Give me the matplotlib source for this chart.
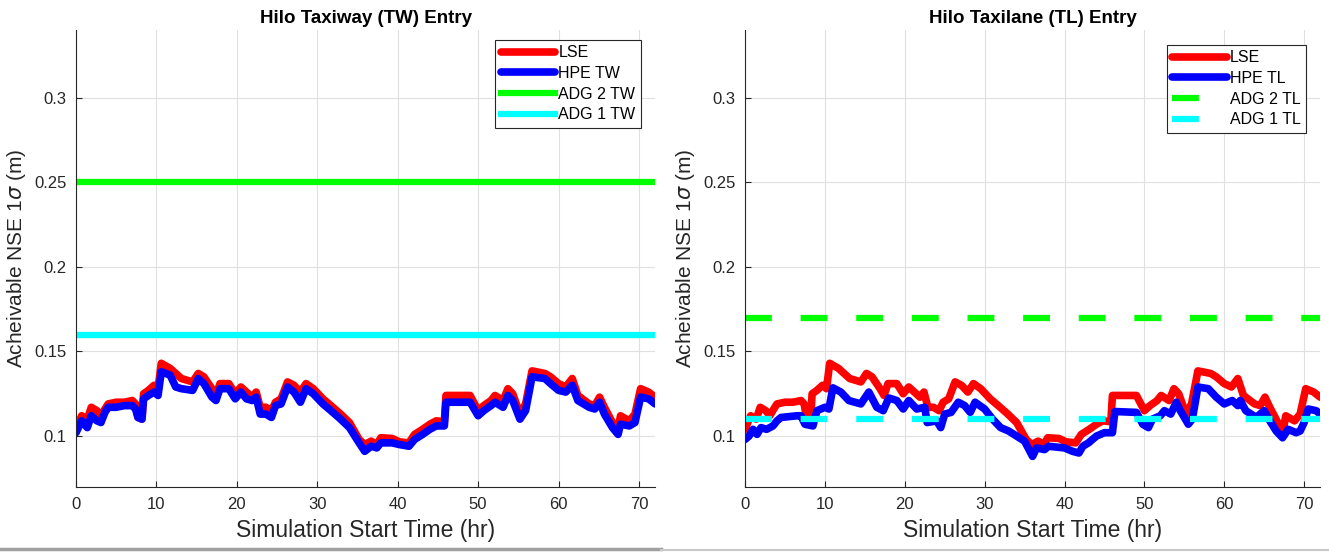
import numpy as np
import matplotlib.pyplot as plt
from matplotlib.ticker import FormatStrFormatter
from matplotlib.lines import Line2D

plt.rcParams['font.family'] = ['Liberation Sans', 'DejaVu Sans']

# LSE (same curve in both panels)
lse_t = [0, 0.7, 1.4, 1.9, 2.6, 3.1, 3.6, 4.0, 5.0, 6.0, 7.0, 7.4, 7.7, 8.2, 8.4, 9.0, 9.7, 10.2,
         10.6, 11.7, 12.4, 13.1, 14.5, 15.2, 15.9, 16.9, 17.4, 17.9, 19.0, 19.8, 20.5, 21.2, 21.9,
         22.4, 22.9, 23.6, 24.3, 24.8, 25.5, 26.3, 27.1, 27.9, 28.6, 29.5, 30.7, 31.7, 32.9, 34.0,
         35.2, 35.9, 36.7, 37.4, 37.9, 39.3, 40.2, 41.4, 42.1, 43.1, 44.0, 44.8, 45.8, 46.0, 49.0,
         50.0, 50.7, 51.6, 52.1, 53.1, 53.7, 54.3, 55.2, 55.9, 56.7, 58.3, 59.0, 60.0, 60.9, 61.7,
         62.4, 63.8, 64.5, 65.1, 65.7, 66.7, 67.4, 67.7, 68.8, 69.5, 70.2, 71.2, 72.0]
lse_v = [0.104, 0.112, 0.110, 0.117, 0.115, 0.112, 0.116, 0.119, 0.120, 0.120, 0.121, 0.119, 0.111,
         0.110, 0.125, 0.127, 0.130, 0.128, 0.143, 0.140, 0.137, 0.134, 0.132, 0.137, 0.135, 0.128,
         0.124, 0.131, 0.131, 0.125, 0.129, 0.126, 0.123, 0.126, 0.117, 0.117, 0.115, 0.120, 0.122,
         0.132, 0.130, 0.126, 0.131, 0.128, 0.122, 0.118, 0.113, 0.108, 0.098, 0.095, 0.097, 0.095,
         0.099, 0.0986, 0.0966, 0.096, 0.101, 0.104, 0.107, 0.109, 0.1085, 0.124, 0.124, 0.115,
         0.118, 0.121, 0.124, 0.121, 0.128, 0.125, 0.113, 0.119, 0.1385, 0.137, 0.135, 0.131, 0.129,
         0.134, 0.124, 0.119, 0.118, 0.123, 0.117, 0.108, 0.104, 0.112, 0.109, 0.113, 0.128, 0.126,
         0.123]

# HPE taxiway (same time samples as LSE)
hpe_tw_v = [0.102, 0.109, 0.105, 0.112, 0.109, 0.108, 0.114, 0.117, 0.117, 0.118, 0.118, 0.116,
            0.111, 0.110, 0.122, 0.124, 0.126, 0.124, 0.138, 0.136, 0.129, 0.128, 0.127, 0.134,
            0.131, 0.123, 0.121, 0.128, 0.128, 0.122, 0.126, 0.122, 0.121, 0.123, 0.113, 0.113,
            0.111, 0.118, 0.119, 0.129, 0.126, 0.120, 0.128, 0.125, 0.119, 0.115, 0.110, 0.105,
            0.096, 0.091, 0.094, 0.093, 0.096, 0.096, 0.095, 0.094, 0.098, 0.101, 0.104, 0.106,
            0.106, 0.120, 0.120, 0.112, 0.115, 0.118, 0.120, 0.117, 0.124, 0.121, 0.110, 0.115,
            0.135, 0.134, 0.131, 0.127, 0.126, 0.130, 0.121, 0.117, 0.116, 0.120, 0.113, 0.105,
            0.101, 0.107, 0.106, 0.108, 0.123, 0.122, 0.119]

# HPE taxilane
hpe_tl_t = [0, 0.5, 1, 1.5, 2, 2.7, 3.5, 4, 4.5, 6.5, 7, 7.5, 8.5, 9, 10, 10.5, 11, 12, 13, 14.5,
            15.5, 16.5, 17.3, 18, 19, 19.8, 20.5, 21.5, 22.5, 22.8, 24, 24.5, 25, 25.8, 26.7, 27.5,
            28.2, 28.8, 30, 31, 32, 33, 34, 35, 36, 36.5, 37.5, 38, 40, 41, 41.8, 42.3, 43, 44,
            45, 46, 46.3, 49, 49.8, 50.5, 51, 52, 52.5, 53.3, 54, 54.5, 55.5, 56, 56.7, 58, 59,
            60, 61, 61.7, 62, 62.7, 64, 65, 65.7, 66.5, 67.3, 68, 69, 69.5, 70, 70.5, 71.5, 72]
hpe_tl_v = [0.098, 0.100, 0.104, 0.101, 0.105, 0.104, 0.106, 0.109, 0.111, 0.112, 0.112, 0.107,
            0.106, 0.115, 0.117, 0.116, 0.1285, 0.126, 0.121, 0.119, 0.126, 0.117, 0.115, 0.1225,
            0.121, 0.116, 0.121, 0.116, 0.117, 0.108, 0.109, 0.105, 0.113, 0.114, 0.120, 0.118,
            0.114, 0.120, 0.116, 0.110, 0.105, 0.103, 0.100, 0.097, 0.088, 0.093, 0.092, 0.094,
            0.093, 0.091, 0.090, 0.094, 0.096, 0.100, 0.102, 0.102, 0.1145, 0.114, 0.107, 0.105,
            0.110, 0.112, 0.115, 0.113, 0.120, 0.115, 0.107, 0.110, 0.129, 0.128, 0.123, 0.119,
            0.121, 0.118, 0.121, 0.115, 0.111, 0.115, 0.109, 0.103, 0.099, 0.104, 0.102, 0.103,
            0.108, 0.116, 0.115, 0.113]

adg2_tw, adg1_tw = 0.25, 0.16
adg2_tl, adg1_tl = 0.17, 0.11
xlim = (0, 72)
ylim = (0.07, 0.34)
yticks = [0.1, 0.15, 0.2, 0.25, 0.3]

fig = plt.figure(figsize=(13.29, 5.52), dpi=100)
ax1 = fig.add_axes([0.0572, 0.118, 0.4357, 0.828])
ax2 = fig.add_axes([0.5606, 0.118, 0.4327, 0.828])

lw = 5.5
line_kw = dict(solid_capstyle='round', solid_joinstyle='round')
dash = (4.3, 4.6)

ax1.plot(lse_t, lse_v, color='#ff0000', lw=lw, label='LSE', **line_kw)
ax1.plot(lse_t, hpe_tw_v, color='#0000ff', lw=lw, label='HPE TW', **line_kw)
ax1.axhline(adg2_tw, color='#00ff00', lw=4.5, label='ADG 2 TW')
ax1.axhline(adg1_tw, color='#00ffff', lw=4.5, label='ADG 1 TW')
ax1.set_title('Hilo Taxiway (TW) Entry', fontsize=13.5, fontweight='bold', pad=5)

ax2.plot(lse_t, lse_v, color='#ff0000', lw=lw, label='LSE', **line_kw)
ax2.plot(hpe_tl_t, hpe_tl_v, color='#0000ff', lw=lw, label='HPE TL', **line_kw)
ax2.axhline(adg2_tl, color='#00ff00', lw=4.5, dashes=dash, label='ADG 2 TL')
ax2.axhline(adg1_tl, color='#00ffff', lw=4.5, dashes=dash, label='ADG 1 TL')
ax2.set_title('Hilo Taxilane (TL) Entry', fontsize=13.5, fontweight='bold', pad=5)

for ax, anchor in [(ax1, (0.976, 0.978)), (ax2, (0.976, 0.967))]:
    ax.set_xlim(*xlim)
    ax.set_ylim(*ylim)
    ax.set_yticks(yticks)
    ax.set_xticks(range(0, 71, 10))
    ax.yaxis.set_major_formatter(FormatStrFormatter('%g'))
    ax.grid(True, color='#e0e0e0', lw=0.8)
    ax.set_axisbelow(True)
    for s in ['top', 'right']:
        ax.spines[s].set_visible(False)
    for s in ['left', 'bottom']:
        ax.spines[s].set_color('#262626')
        ax.spines[s].set_linewidth(0.8)
    ax.tick_params(direction='in', length=4, colors='#262626', labelsize=12, pad=7)
    ax.set_xlabel('Simulation Start Time (hr)', fontsize=16.5, color='#262626', labelpad=5)
    ax.set_ylabel(r'Acheivable NSE 1$\sigma$ (m)', fontsize=15, color='#262626', labelpad=4)
    leg = ax.legend(loc='upper right', bbox_to_anchor=anchor, borderaxespad=0, fontsize=11.5,
                    handlelength=3.4, handletextpad=0.2, labelspacing=0.35, borderpad=0.35,
                    fancybox=False, framealpha=1)
    leg.get_frame().set_edgecolor('#262626')
    leg.get_frame().set_linewidth(0.8)

# separator lines at the bottom edge of the screenshot
fig.add_artist(Line2D([0, 0.497], [0.006, 0.006], color='#a0a0a0', lw=2.5, transform=fig.transFigure))
fig.add_artist(Line2D([0.497, 1], [0.004, 0.004], color='#c8c8c8', lw=1.5, transform=fig.transFigure))

fig.savefig('out.png', dpi=100)
